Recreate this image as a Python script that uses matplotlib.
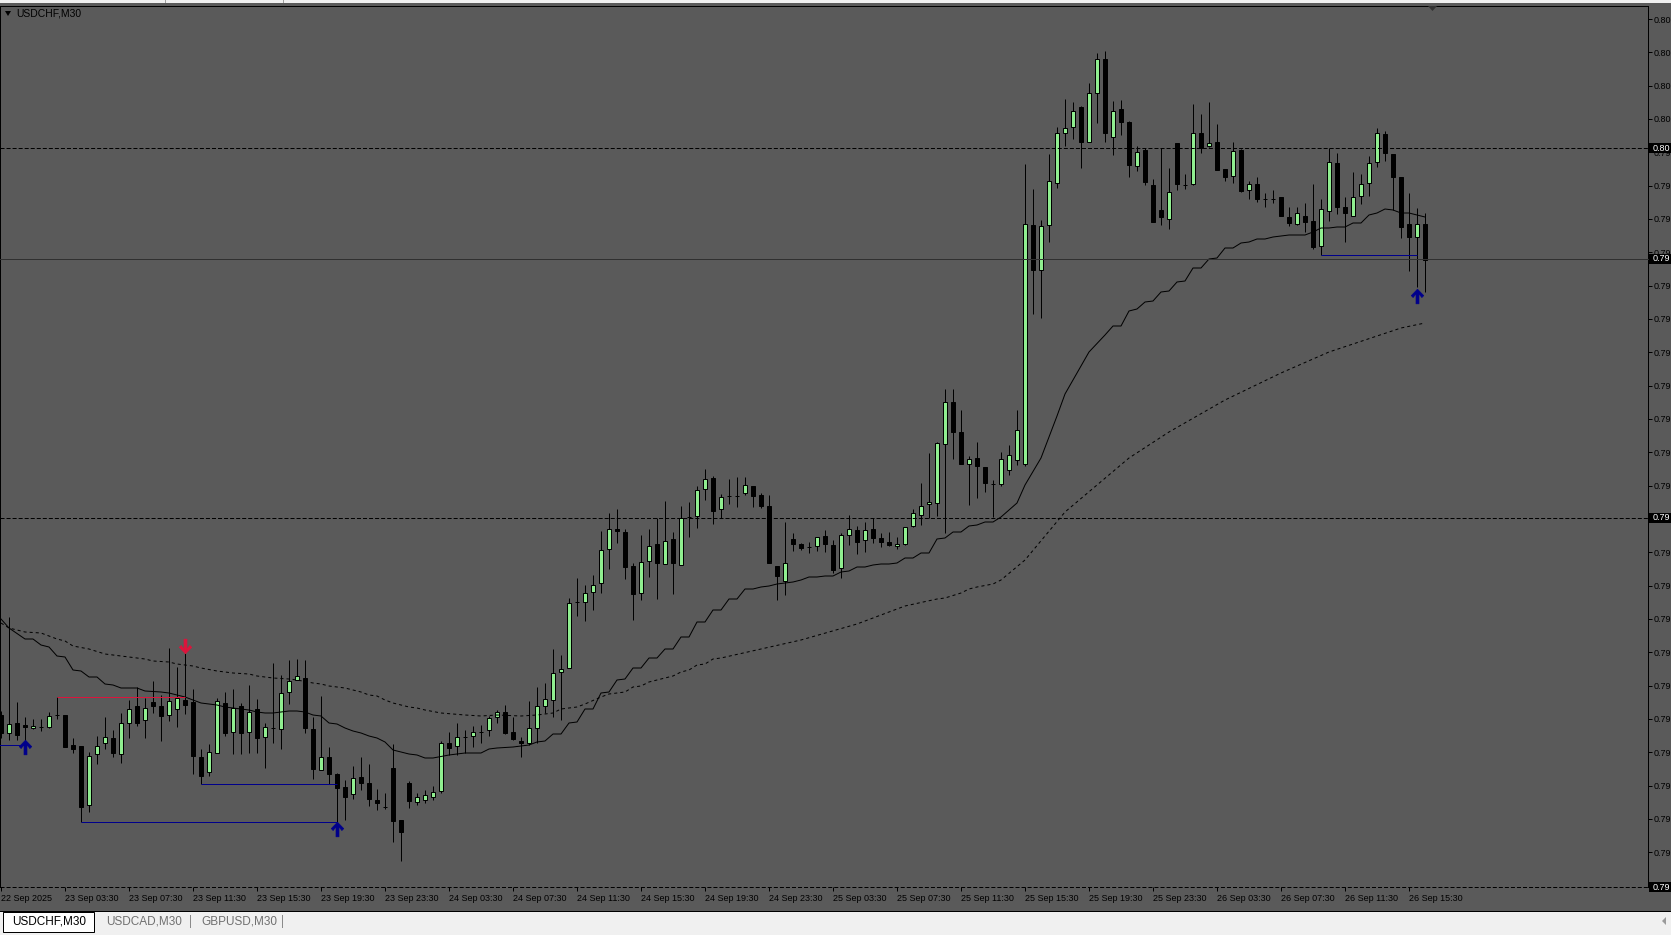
import numpy as np
import matplotlib
matplotlib.use('Agg')
import matplotlib.pyplot as plt
from matplotlib.path import Path
from matplotlib.patches import Rectangle, Polygon

plt.rcParams['font.family'] = ['Liberation Sans', 'DejaVu Sans']
plt.rcParams['lines.scale_dashes'] = False

W, H = 1671, 935

symbol = "USDCHF,M30"
tabs = ["USDCHF,M30", "USDCAD,M30", "GBPUSD,M30"]
time_labels = ["22 Sep 2025", "23 Sep 03:30", "23 Sep 07:30", "23 Sep 11:30", "23 Sep 15:30",
               "23 Sep 19:30", "23 Sep 23:30", "24 Sep 03:30", "24 Sep 07:30", "24 Sep 11:30",
               "24 Sep 15:30", "24 Sep 19:30", "24 Sep 23:30", "25 Sep 03:30", "25 Sep 07:30",
               "25 Sep 11:30", "25 Sep 15:30", "25 Sep 19:30", "25 Sep 23:30", "26 Sep 03:30",
               "26 Sep 07:30", "26 Sep 11:30", "26 Sep 15:30"]

# M30 candles, 22 Sep 23:30 .. 26 Sep 16:30
opens = [0.79435, 0.79417, 0.79427, 0.79425, 0.79422, 0.79423, 0.79423, 0.79435, 0.79435, 0.79405,
         0.79404, 0.79345, 0.79396, 0.79407, 0.79412, 0.79396, 0.79427, 0.79444, 0.79430, 0.79448,
         0.79444, 0.79435, 0.79441, 0.79450, 0.79448, 0.79393, 0.79378, 0.79397, 0.79447, 0.79418,
         0.79444, 0.79418, 0.79441, 0.79413, 0.79422, 0.79421, 0.79458, 0.79470, 0.79472, 0.79421,
         0.79380, 0.79393, 0.79376, 0.79363, 0.79356, 0.79373, 0.79367, 0.79350, 0.79343, 0.79382,
         0.79330, 0.79367, 0.79348, 0.79350, 0.79353, 0.79359, 0.79407, 0.79404, 0.79413, 0.79414,
         0.79418, 0.79420, 0.79433, 0.79438, 0.79418, 0.79409, 0.79407, 0.79422, 0.79444, 0.79450,
         0.79478, 0.79482, 0.79548, 0.79548, 0.79558, 0.79567, 0.79601, 0.79621, 0.79618, 0.79584,
         0.79557, 0.79589, 0.79606, 0.79586, 0.79611, 0.79585, 0.79633, 0.79634, 0.79661, 0.79672,
         0.79641, 0.79654, 0.79654, 0.79657, 0.79664, 0.79655, 0.79644, 0.79584, 0.79569, 0.79611,
         0.79606, 0.79603, 0.79604, 0.79614, 0.79605, 0.79582, 0.79615, 0.79620, 0.79610, 0.79621,
         0.79612, 0.79608, 0.79604, 0.79606, 0.79624, 0.79635, 0.79646, 0.79647, 0.79706, 0.79748,
         0.79718, 0.79686, 0.79692, 0.79683, 0.79666, 0.79666, 0.79680, 0.79690, 0.79686, 0.79925,
         0.79880, 0.79925, 0.79967, 0.80017, 0.80023, 0.80043, 0.80008, 0.80057, 0.80091, 0.80013,
         0.80041, 0.80028, 0.79984, 0.80000, 0.79965, 0.79940, 0.79931, 0.80007, 0.79965, 0.79966,
         0.80017, 0.80004, 0.80008, 0.79981, 0.79974, 0.80000, 0.79960, 0.79966, 0.79951, 0.79951,
         0.79953, 0.79933, 0.79926, 0.79934, 0.79929, 0.79904, 0.79939, 0.79987, 0.79943, 0.79934,
         0.79954, 0.79967, 0.79988, 0.80016, 0.79996, 0.79973, 0.79926, 0.79913, 0.79926]
highs = [0.79439, 0.79533, 0.79448, 0.79433, 0.79431, 0.79431, 0.79438, 0.79453, 0.79435, 0.79412,
         0.79404, 0.79398, 0.79414, 0.79433, 0.79420, 0.79437, 0.79450, 0.79463, 0.79452, 0.79469,
         0.79455, 0.79502, 0.79483, 0.79498, 0.79461, 0.79401, 0.79406, 0.79452, 0.79458, 0.79461,
         0.79447, 0.79465, 0.79451, 0.79427, 0.79487, 0.79475, 0.79490, 0.79491, 0.79490, 0.79433,
         0.79454, 0.79403, 0.79377, 0.79370, 0.79384, 0.79393, 0.79386, 0.79361, 0.79357, 0.79406,
         0.79330, 0.79369, 0.79357, 0.79360, 0.79364, 0.79409, 0.79418, 0.79427, 0.79420, 0.79424,
         0.79425, 0.79434, 0.79440, 0.79445, 0.79433, 0.79413, 0.79449, 0.79463, 0.79467, 0.79501,
         0.79495, 0.79552, 0.79572, 0.79565, 0.79575, 0.79619, 0.79637, 0.79641, 0.79621, 0.79587,
         0.79615, 0.79621, 0.79632, 0.79649, 0.79618, 0.79644, 0.79648, 0.79664, 0.79681, 0.79674,
         0.79656, 0.79671, 0.79673, 0.79673, 0.79664, 0.79657, 0.79655, 0.79584, 0.79628, 0.79617,
         0.79607, 0.79608, 0.79613, 0.79620, 0.79610, 0.79617, 0.79635, 0.79624, 0.79628, 0.79632,
         0.79617, 0.79618, 0.79613, 0.79623, 0.79641, 0.79667, 0.79697, 0.79708, 0.79761, 0.79761,
         0.79740, 0.79694, 0.79708, 0.79683, 0.79670, 0.79698, 0.79705, 0.79740, 0.79986, 0.79961,
         0.79930, 0.79996, 0.80023, 0.80051, 0.80048, 0.80044, 0.80067, 0.80097, 0.80099, 0.80049,
         0.80050, 0.80029, 0.80004, 0.80002, 0.79971, 0.80002, 0.79982, 0.80007, 0.79976, 0.80046,
         0.80036, 0.80048, 0.80026, 0.79981, 0.80008, 0.80001, 0.79969, 0.79973, 0.79957, 0.79960,
         0.79953, 0.79943, 0.79943, 0.79947, 0.79966, 0.79951, 0.80002, 0.79997, 0.79953, 0.79978,
         0.79976, 0.79994, 0.80022, 0.80019, 0.79996, 0.79973, 0.79957, 0.79942, 0.79937]
lows = [0.79412, 0.79410, 0.79410, 0.79405, 0.79421, 0.79419, 0.79422, 0.79431, 0.79403, 0.79397,
        0.79328, 0.79338, 0.79386, 0.79401, 0.79393, 0.79387, 0.79412, 0.79424, 0.79412, 0.79437,
        0.79409, 0.79429, 0.79423, 0.79436, 0.79376, 0.79366, 0.79374, 0.79397, 0.79414, 0.79396,
        0.79396, 0.79397, 0.79397, 0.79382, 0.79407, 0.79401, 0.79446, 0.79470, 0.79417, 0.79371,
        0.79380, 0.79366, 0.79328, 0.79330, 0.79351, 0.79360, 0.79344, 0.79340, 0.79341, 0.79308,
        0.79289, 0.79342, 0.79345, 0.79347, 0.79350, 0.79357, 0.79395, 0.79395, 0.79397, 0.79403,
        0.79407, 0.79414, 0.79427, 0.79416, 0.79410, 0.79393, 0.79405, 0.79407, 0.79437, 0.79433,
        0.79430, 0.79482, 0.79534, 0.79529, 0.79540, 0.79557, 0.79581, 0.79607, 0.79571, 0.79530,
        0.79550, 0.79573, 0.79551, 0.79586, 0.79556, 0.79585, 0.79613, 0.79622, 0.79650, 0.79626,
        0.79632, 0.79646, 0.79643, 0.79655, 0.79643, 0.79642, 0.79587, 0.79550, 0.79555, 0.79599,
        0.79600, 0.79597, 0.79599, 0.79598, 0.79577, 0.79572, 0.79605, 0.79596, 0.79598, 0.79607,
        0.79603, 0.79604, 0.79601, 0.79605, 0.79623, 0.79625, 0.79632, 0.79634, 0.79617, 0.79691,
        0.79686, 0.79645, 0.79652, 0.79658, 0.79633, 0.79664, 0.79675, 0.79685, 0.79684, 0.79836,
        0.79832, 0.79908, 0.79962, 0.80004, 0.80011, 0.79982, 0.80008, 0.80027, 0.80008, 0.79995,
        0.80015, 0.79973, 0.79979, 0.79965, 0.79928, 0.79925, 0.79921, 0.79960, 0.79961, 0.79965,
        0.79997, 0.80003, 0.79980, 0.79969, 0.79967, 0.79958, 0.79951, 0.79948, 0.79943, 0.79947,
        0.79934, 0.79924, 0.79925, 0.79918, 0.79901, 0.79895, 0.79929, 0.79936, 0.79908, 0.79934,
        0.79946, 0.79954, 0.79983, 0.79989, 0.79940, 0.79912, 0.79879, 0.79863, 0.79858]
closes = [0.79417, 0.79426, 0.79415, 0.79423, 0.79424, 0.79423, 0.79434, 0.79435, 0.79403, 0.79401,
          0.79343, 0.79394, 0.79404, 0.79413, 0.79397, 0.79427, 0.79441, 0.79427, 0.79442, 0.79444,
          0.79434, 0.79449, 0.79452, 0.79445, 0.79394, 0.79374, 0.79398, 0.79449, 0.79417, 0.79442,
          0.79417, 0.79438, 0.79412, 0.79423, 0.79422, 0.79457, 0.79469, 0.79474, 0.79422, 0.79381,
          0.79393, 0.79376, 0.79362, 0.79353, 0.79372, 0.79367, 0.79351, 0.79347, 0.79343, 0.79329,
          0.79318, 0.79349, 0.79353, 0.79355, 0.79358, 0.79407, 0.79402, 0.79413, 0.79413, 0.79418,
          0.79418, 0.79432, 0.79438, 0.79417, 0.79411, 0.79407, 0.79422, 0.79444, 0.79451, 0.79477,
          0.79481, 0.79547, 0.79548, 0.79557, 0.79565, 0.79600, 0.79621, 0.79619, 0.79583, 0.79556,
          0.79588, 0.79604, 0.79587, 0.79609, 0.79587, 0.79632, 0.79633, 0.79660, 0.79671, 0.79639,
          0.79653, 0.79654, 0.79654, 0.79665, 0.79654, 0.79644, 0.79587, 0.79574, 0.79587, 0.79606,
          0.79602, 0.79603, 0.79613, 0.79606, 0.79580, 0.79615, 0.79621, 0.79608, 0.79620, 0.79612,
          0.79608, 0.79605, 0.79606, 0.79623, 0.79637, 0.79644, 0.79648, 0.79707, 0.79748, 0.79718,
          0.79686, 0.79691, 0.79684, 0.79667, 0.79666, 0.79691, 0.79695, 0.79720, 0.79926, 0.79880,
          0.79924, 0.79969, 0.80017, 0.80022, 0.80039, 0.80008, 0.80057, 0.80091, 0.80017, 0.80039,
          0.80028, 0.79985, 0.79998, 0.79968, 0.79928, 0.79933, 0.79958, 0.79966, 0.79965, 0.80017,
          0.80002, 0.80007, 0.79980, 0.79973, 0.79999, 0.79959, 0.79966, 0.79951, 0.79951, 0.79951,
          0.79934, 0.79927, 0.79937, 0.79928, 0.79903, 0.79941, 0.79988, 0.79943, 0.79937, 0.79953,
          0.79966, 0.79987, 0.80017, 0.79997, 0.79973, 0.79923, 0.79913, 0.79926, 0.79890]

# moving averages, read at these bars
ma_fast_bars = [0, 1, 3, 4, 5, 6, 7, 8, 9, 10, 11, 12, 13, 14, 15, 17, 18, 20, 21, 22, 23, 24, 25, 26,
                27, 28, 29, 30, 31, 32, 33, 34, 35, 36, 37, 38, 39, 40, 41, 42, 43, 44, 45, 46, 47, 48,
                49, 50, 51, 52, 53, 54, 56, 58, 60, 61, 62, 64, 66, 67, 68, 69, 70, 71, 72, 73, 74, 75,
                76, 77, 78, 79, 80, 81, 82, 83, 84, 85, 86, 87, 88, 89, 90, 91, 92, 93, 94, 95, 96, 97,
                98, 99, 100, 101, 102, 103, 104, 105, 106, 107, 108, 109, 110, 111, 112, 113, 114, 115,
                116, 117, 118, 119, 120, 121, 122, 123, 124, 125, 127, 128, 130, 132, 133, 134, 136,
                138, 139, 140, 141, 142, 143, 144, 145, 146, 147, 148, 149, 150, 151, 152, 153, 154,
                155, 156, 157, 158, 159, 160, 161, 163, 164, 165, 166, 167, 168, 169, 170, 171, 172,
                173, 174, 175, 176, 177, 178]
ma_fast = [0.79531, 0.79522, 0.79511, 0.79511, 0.79505, 0.79503, 0.79494, 0.79493, 0.79480, 0.79479,
           0.79473, 0.79473, 0.79466, 0.79465, 0.79462, 0.79462, 0.79459, 0.79458, 0.79457, 0.79455,
           0.79453, 0.79450, 0.79447, 0.79446, 0.79445, 0.79443, 0.79442, 0.79441, 0.79440, 0.79438,
           0.79437, 0.79437, 0.79438, 0.79439, 0.79439, 0.79438, 0.79435, 0.79434, 0.79427, 0.79426,
           0.79422, 0.79419, 0.79417, 0.79414, 0.79412, 0.79408, 0.79400, 0.79398, 0.79396, 0.79395,
           0.79392, 0.79392, 0.79395, 0.79397, 0.79397, 0.79401, 0.79402, 0.79403, 0.79405, 0.79408,
           0.79409, 0.79416, 0.79416, 0.79427, 0.79428, 0.79441, 0.79441, 0.79457, 0.79458, 0.79470,
           0.79471, 0.79482, 0.79482, 0.79492, 0.79492, 0.79501, 0.79501, 0.79513, 0.79513, 0.79528,
           0.79528, 0.79540, 0.79540, 0.79551, 0.79551, 0.79561, 0.79561, 0.79563, 0.79564, 0.79566,
           0.79567, 0.79568, 0.79570, 0.79573, 0.79573, 0.79574, 0.79574, 0.79578, 0.79579, 0.79583,
           0.79583, 0.79585, 0.79586, 0.79586, 0.79587, 0.79592, 0.79592, 0.79597, 0.79597, 0.79611,
           0.79612, 0.79618, 0.79618, 0.79624, 0.79625, 0.79628, 0.79628, 0.79633, 0.79647, 0.79665,
           0.79692, 0.79734, 0.79756, 0.79770, 0.79798, 0.79815, 0.79824, 0.79824, 0.79839, 0.79841,
           0.79848, 0.79849, 0.79858, 0.79859, 0.79868, 0.79869, 0.79882, 0.79882, 0.79891, 0.79892,
           0.79902, 0.79902, 0.79907, 0.79908, 0.79911, 0.79911, 0.79913, 0.79914, 0.79915, 0.79915,
           0.79918, 0.79922, 0.79922, 0.79923, 0.79923, 0.79927, 0.79927, 0.79935, 0.79937, 0.79941,
           0.79940, 0.79937, 0.79937, 0.79935, 0.79933]
ma_slow_bars = [0, 1, 2, 3, 5, 6, 7, 8, 9, 11, 13, 14, 16, 18, 19, 21, 22, 24, 25, 27, 29, 31, 32, 34,
                36, 37, 39, 40, 41, 43, 44, 45, 46, 47, 48, 49, 50, 51, 52, 53, 55, 58, 60, 62, 65, 67,
                68, 69, 70, 72, 73, 75, 76, 78, 79, 80, 81, 83, 84, 85, 86, 87, 88, 89, 90, 100, 107,
                113, 117, 118, 120, 121, 122, 124, 125, 128, 133, 137, 141, 146, 153, 160, 166, 172,
                175, 178]
ma_slow = [0.79527, 0.79522, 0.79520, 0.79518, 0.79517, 0.79514, 0.79511, 0.79509, 0.79504, 0.79501,
           0.79496, 0.79495, 0.79493, 0.79491, 0.79489, 0.79488, 0.79486, 0.79484, 0.79482, 0.79479,
           0.79477, 0.79476, 0.79474, 0.79472, 0.79471, 0.79470, 0.79467, 0.79466, 0.79464, 0.79462,
           0.79460, 0.79458, 0.79455, 0.79454, 0.79450, 0.79447, 0.79445, 0.79443, 0.79442, 0.79440,
           0.79437, 0.79435, 0.79434, 0.79435, 0.79434, 0.79435, 0.79436, 0.79437, 0.79441, 0.79443,
           0.79446, 0.79453, 0.79456, 0.79458, 0.79463, 0.79464, 0.79468, 0.79472, 0.79474, 0.79478,
           0.79480, 0.79485, 0.79486, 0.79491, 0.79492, 0.79510, 0.79526, 0.79544, 0.79551, 0.79552,
           0.79557, 0.79561, 0.79563, 0.79566, 0.79570, 0.79590, 0.79638, 0.79665, 0.79692, 0.79718,
           0.79750, 0.79777, 0.79798, 0.79814, 0.79822, 0.79827]

# horizontal levels drawn on the chart
levels = [0.80002, 0.79891, 0.79632, 0.79263]
level_styles = ['dashed', 'solid', 'dashed', 'dashed']

# range lines from the indicator (start bar, end bar, price)
red_starts, red_ends, red_prices = [7], [23], [0.79453]
blue_starts = [-1, 10, 25, 165]
blue_ends = [3, 42, 42, 177]
blue_prices = [0.79405, 0.79328, 0.79366, 0.79895]

# signal arrows
buy_bars = [3, 42, 177]
buy_prices = [0.79403, 0.79321, 0.79854]
sell_bars = [23]
sell_prices = [0.79504]

BG = '#5a5a5a'
BULL = '#90ee90'
NAVY = '#00008b'
RED = '#dc143c'
LW = 0.72  # one pixel


def fx(x):
    return x / W


def fy(y):
    return 1 - y / H


def shown(v):
    # the price scale is cut by the window edge: only "0.80" / "0.79" is visible
    return f"{v:.5f}"[:4]


fig = plt.figure(figsize=(W / 100, H / 100), dpi=100, facecolor=BG)
ax = fig.add_axes([0, fy(887), fx(1648), (887 - 6) / H])
ax.set_facecolor(BG)

n = len(opens)
x = np.arange(n)
o = np.array(opens)
h = np.array(highs)
l = np.array(lows)
c = np.array(closes)
up = c >= o

ax.vlines(x, l, h, color='black', lw=LW, zorder=2)
bot = np.minimum(o, c)
hgt = np.abs(c - o)
ax.bar(x[up], hgt[up], bottom=bot[up], width=0.5, color=BULL, edgecolor='black', linewidth=LW, zorder=3)
ax.bar(x[~up], hgt[~up], bottom=bot[~up], width=0.5, color='black', edgecolor='black', linewidth=LW, zorder=3)

ax.plot(ma_fast_bars, ma_fast, color='black', lw=LW, zorder=4)
ax.plot(ma_slow_bars, ma_slow, color='black', lw=LW, dashes=(2.2, 2.2), zorder=4)

for lv, st in zip(levels, level_styles):
    if st == 'solid':
        ax.axhline(lv, color='#303030', lw=LW, zorder=5, clip_on=False)
    else:
        ax.axhline(lv, color='black', lw=LW, dashes=(2.9, 1.45), zorder=5, clip_on=False)

ax.hlines(red_prices, red_starts, red_ends, color=RED, lw=LW, zorder=5)
ax.hlines(blue_prices, blue_starts, blue_ends, color=NAVY, lw=LW, zorder=5)

arrow_up = Path([(0, 1), (0.85, 0.12), (0.6, -0.14), (0.2, 0.38), (0.2, -1), (-0.2, -1),
                 (-0.2, 0.38), (-0.6, -0.14), (-0.85, 0.12), (0, 1)],
                [Path.MOVETO] + [Path.LINETO] * 8 + [Path.CLOSEPOLY])
arrow_down = Path(arrow_up.vertices * np.array([1, -1]), arrow_up.codes)
ax.plot(buy_bars, buy_prices, ls='none', marker=arrow_up, ms=10.5, color=NAVY, mec=NAVY, mew=0.5, zorder=6)
ax.plot(sell_bars, sell_prices, ls='none', marker=arrow_down, ms=10.5, color=RED, mec=RED, mew=0.5, zorder=6)

ax.set_xlim(-0.125, 205.875)
ax.set_ylim(0.79263, 0.80144)

for s in ['left', 'top', 'right']:
    ax.spines[s].set_color('black')
    ax.spines[s].set_linewidth(LW)
ax.spines['bottom'].set_visible(False)

yt = 0.80131 - 0.00033333 * np.arange(26)
ax.yaxis.tick_right()
ax.set_yticks(yt)
ax.set_yticklabels([shown(v) for v in yt])
ax.tick_params(axis='y', direction='out', length=3, width=LW, color='black', pad=1,
               labelsize=6.5, labelcolor='black')

ax.set_xticks(np.arange(len(time_labels)) * 8)
ax.set_xticklabels(time_labels)
ax.tick_params(axis='x', direction='out', length=3, width=LW, color='black', pad=2,
               labelsize=6.5, labelcolor='black')
for lb in ax.get_xticklabels():
    lb.set_ha('left')

# black price boxes for the levels
for lv in levels:
    ypx = (0.80150 - lv) * 1e5
    fig.add_artist(Rectangle((fx(1649), fy(ypx + 5)), (W - 1649) / W, 10 / H,
                             transform=fig.transFigure, fc='black', ec='none', zorder=9))
    fig.text(fx(1653), fy(ypx), shown(lv), color='white', fontsize=6.5,
             va='center', ha='left', zorder=10)

# title
fig.text(fx(16), fy(14), symbol, fontsize=7.5, color='black', va='center', ha='left')
fig.add_artist(Polygon([(fx(5), fy(11)), (fx(11), fy(11)), (fx(8), fy(16))], closed=True,
                       transform=fig.transFigure, fc='black', ec='none'))
# chart shift marker
fig.add_artist(Polygon([(fx(1428), fy(6)), (fx(1437), fy(6)), (fx(1432.5), fy(11))], closed=True,
                       transform=fig.transFigure, fc='#333333', ec='none'))

# top toolbar strip
fig.add_artist(Rectangle((0, fy(3)), 1, 3 / H, transform=fig.transFigure, fc='#f0f0f0', ec='none'))
for xs in [165, 283]:
    fig.add_artist(Rectangle((fx(xs), fy(3)), 1 / W, 3 / H, transform=fig.transFigure,
                             fc='#a0a0a0', ec='none'))

# tab bar
fig.add_artist(Rectangle((0, 0), 1, fy(911), transform=fig.transFigure, fc='#f0f0f0', ec='none'))
fig.add_artist(Rectangle((0, fy(912)), 1, 1.2 / H, transform=fig.transFigure, fc='black', ec='none'))
fig.add_artist(Rectangle((fx(3), fy(932)), 91 / W, 20 / H, transform=fig.transFigure,
                         fc='white', ec='black', lw=LW))
tab_x = [12, 106, 201]
for i, (t, tx) in enumerate(zip(tabs, tab_x)):
    fig.text(fx(tx), fy(922), t, fontsize=8.5, va='center', ha='left',
             color='black' if i == 0 else '#707070')
for xs in [190, 282]:
    fig.add_artist(Rectangle((fx(xs), fy(928)), 1 / W, 13 / H, transform=fig.transFigure,
                             fc='#8a8a8a', ec='none'))
fig.add_artist(Polygon([(fx(1662), fy(921)), (fx(1666), fy(917)), (fx(1666), fy(925))], closed=True,
                       transform=fig.transFigure, fc='#9a9a9a', ec='none'))

fig.savefig('out.png', dpi=100, facecolor=BG)
